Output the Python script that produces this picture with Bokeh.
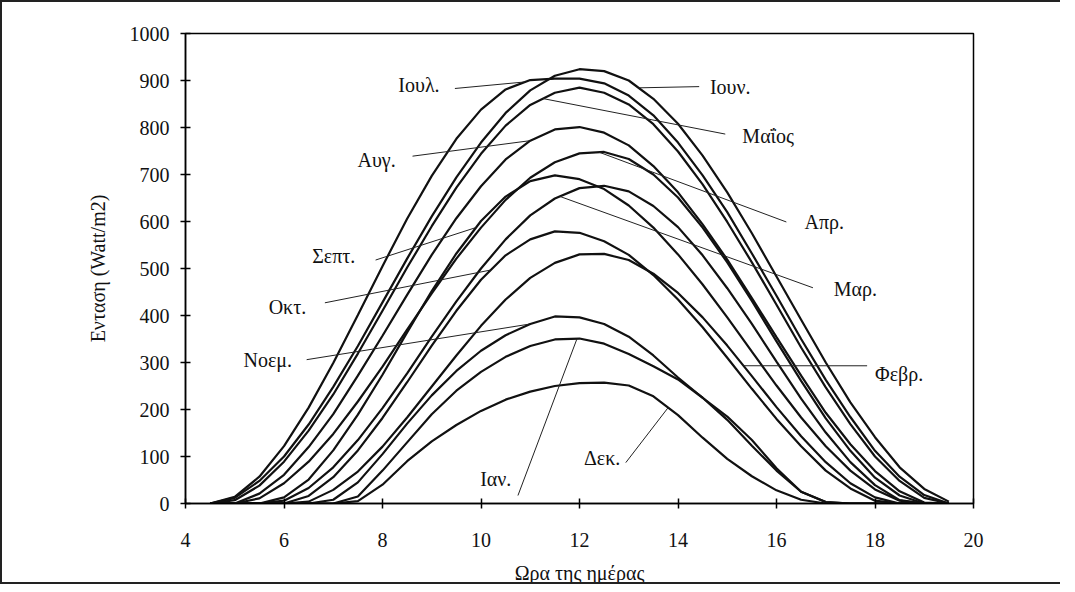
import numpy as np
from bokeh.plotting import figure
from bokeh.models import ColumnDataSource, FixedTicker, Range1d
from bokeh.core.properties import value
from bokeh.embed import file_html
from bokeh.resources import INLINE

# ---- data ----
hours = [4.5, 5.0, 5.5, 6.0, 6.5, 7.0, 7.5, 8.0, 8.5, 9.0, 9.5, 10.0, 10.5, 11.0, 11.5,
         12.0, 12.5, 13.0, 13.5, 14.0, 14.5, 15.0, 15.5, 16.0, 16.5, 17.0, 17.5, 18.0,
         18.5, 19.0, 19.5]

jun = [0, 12, 48, 100, 168, 248, 335, 428, 521, 611, 694, 768, 831, 879, 910, 924, 920, 900, 861, 808, 740, 662, 575, 483, 391, 300, 215, 141, 77, 31, 4]
jul = [0, 14, 57, 122, 204, 299, 401, 505, 606, 697, 776, 838, 881, 901, 904, 904, 894, 868, 826, 768, 698, 620, 532, 442, 350, 263, 184, 112, 57, 18, 0]
may = [0, 7, 38, 89, 155, 232, 319, 410, 502, 590, 672, 744, 804, 848, 874, 885, 874, 849, 807, 749, 679, 599, 513, 423, 332, 247, 169, 100, 48, 12, 0]
aug = [0, 0, 21, 61, 120, 190, 272, 357, 444, 529, 607, 675, 732, 772, 796, 801, 789, 762, 718, 662, 594, 519, 437, 354, 272, 193, 126, 69, 26, 2, 0]
apr = [0, 0, 11, 43, 89, 148, 217, 291, 370, 447, 521, 587, 646, 693, 726, 745, 748, 733, 700, 651, 587, 513, 431, 345, 261, 181, 112, 55, 17, 0, 0]
sep = [0, 0, 0, 13, 51, 113, 189, 274, 364, 452, 532, 601, 653, 686, 698, 690, 669, 634, 587, 530, 466, 396, 323, 251, 183, 122, 70, 30, 6, 0, 0]
mar = [0, 0, 0, 6, 33, 77, 135, 203, 277, 355, 430, 500, 562, 613, 649, 671, 676, 664, 633, 588, 528, 458, 382, 302, 223, 151, 88, 39, 7, 0, 0]
oct_ = [0, 0, 0, 0, 16, 56, 113, 182, 258, 336, 410, 476, 528, 562, 579, 576, 558, 529, 486, 434, 375, 310, 244, 180, 122, 70, 32, 6, 0, 0, 0]
feb = [0, 0, 0, 0, 4, 29, 68, 121, 183, 249, 315, 378, 434, 480, 512, 530, 531, 518, 489, 448, 396, 336, 271, 205, 143, 88, 43, 13, 0, 0, 0]
nov = [0, 0, 0, 0, 0, 8, 45, 105, 170, 230, 282, 325, 358, 382, 398, 396, 382, 355, 315, 268, 225, 185, 135, 75, 25, 3, 0, 0, 0, 0, 0]
jan = [0, 0, 0, 0, 0, 0, 15, 70, 130, 190, 240, 280, 312, 335, 349, 351, 340, 318, 292, 264, 225, 178, 123, 70, 25, 3, 0, 0, 0, 0, 0]
dec = [0, 0, 0, 0, 0, 0, 5, 40, 90, 132, 167, 197, 221, 238, 250, 256, 257, 251, 228, 188, 140, 95, 58, 28, 8, 0, 0, 0, 0, 0, 0]

month_names = ["Ιουλ.", "Ιουν.", "Μαΐος", "Αυγ.", "Απρ.", "Σεπτ.",
               "Μαρ.", "Οκτ.", "Νοεμ.", "Φεβρ.", "Ιαν.", "Δεκ."]
month_series = [jul, jun, may, aug, apr, sep, mar, oct_, nov, feb, jan, dec]

# label text centres
label_x = [8.74, 15.06, 15.83, 7.88, 16.97, 7.01, 17.6, 6.07, 5.67, 18.49, 10.3, 12.46]
label_y = [890, 887, 781, 730, 599, 527, 456, 418, 306, 276, 53, 96]
# leader lines: free end near the label, and the hour where it meets its curve
leader_free_x = [9.47, 14.43, 14.96, 8.61, 16.2, 7.86, 16.74, 6.83, 6.46, 17.84, 10.75, 12.94]
leader_free_y = [883, 887, 786, 739, 599, 518, 459, 427, 306, 293, 17, 87]
leader_on_x = [10.9, 13.2, 11.26, 11.0, 12.4, 9.9, 11.6, 10.2, 11.0, 15.33, 11.95, 13.8]

x_ticks = [4, 6, 8, 10, 12, 14, 16, 18, 20]
y_ticks = [0, 100, 200, 300, 400, 500, 600, 700, 800, 900, 1000]

FONT = "Liberation Serif"
INK = "#111111"

p = figure(width=1060, height=584, output_backend="svg", toolbar_location=None,
           x_range=Range1d(4, 20), y_range=Range1d(0, 1000),
           min_border_left=183, min_border_right=89, min_border_top=31,
           min_border_bottom=78)
p.styles = {"border-left": "2px solid #222", "border-top": "2px solid #222",
            "border-bottom": "2px solid #222"}

p.xgrid.visible = False
p.ygrid.visible = False
p.outline_line_color = "black"
p.outline_line_width = 1.5
p.outline_line_alpha = 1.0
p.background_fill_color = "white"
p.border_fill_color = "white"

for ser in month_series:
    p.line(hours, ser, line_color=INK, line_width=2.2)

on_y = [float(np.interp(xx, hours, s)) for xx, s in zip(leader_on_x, month_series)]
p.segment(x0=leader_free_x, y0=leader_free_y, x1=leader_on_x, y1=on_y,
          line_color="#222222", line_width=1)

src = ColumnDataSource(dict(x=label_x, y=label_y, t=month_names))
p.text(x="x", y="y", text="t", source=src, text_font=value(FONT),
       text_font_size="20px", text_align="center", text_baseline="middle",
       text_color=INK)

p.xaxis.ticker = FixedTicker(ticks=x_ticks)
p.yaxis.ticker = FixedTicker(ticks=y_ticks)
for ax in (p.xaxis[0], p.yaxis[0]):
    ax.minor_tick_line_color = None
    ax.major_tick_in = 5
    ax.major_tick_out = 5
    ax.major_tick_line_color = "black"
    ax.major_tick_line_width = 1.5
    ax.axis_line_color = "black"
    ax.axis_line_width = 1.5
    ax.major_label_text_font = FONT
    ax.major_label_text_font_size = "20px"
    ax.major_label_text_color = INK
    ax.axis_label_text_font = FONT
    ax.axis_label_text_font_size = "20px"
    ax.axis_label_text_font_style = "normal"
    ax.axis_label_text_color = INK

p.xaxis.major_label_standoff = 24
p.yaxis.major_label_standoff = 11
p.xaxis.axis_label = "Ωρα της ημέρας"
p.yaxis.axis_label = "Ενταση (Watt/m2)"
p.xaxis.axis_label_standoff = 12
p.yaxis.axis_label_standoff = 18

open("out.html", "w").write(file_html(p, INLINE))
